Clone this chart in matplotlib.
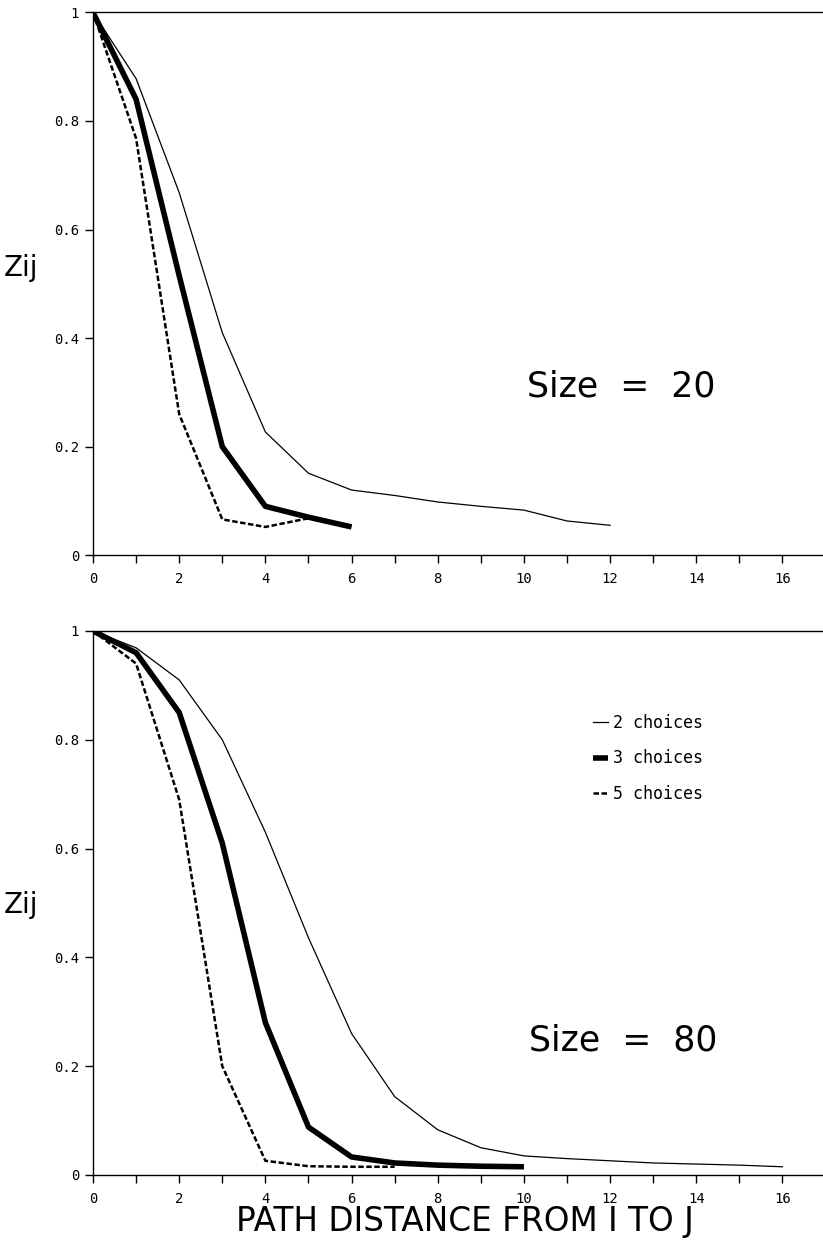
import matplotlib
matplotlib.use("Agg")
import matplotlib.pyplot as plt
from matplotlib.ticker import MultipleLocator, FuncFormatter

# Size = 20
x20_2 = [0, 1, 2, 3, 4, 5, 6, 7, 8, 9, 10, 11, 12]
y20_2 = [1.0, 0.878, 0.668, 0.41, 0.227, 0.151, 0.12, 0.11, 0.098, 0.09, 0.083, 0.063, 0.055]
x20_3 = [0, 1, 2, 3, 4, 5, 6]
y20_3 = [1.0, 0.84, 0.515, 0.20, 0.09, 0.07, 0.052]
x20_5 = [0, 1, 2, 3, 4, 5, 6]
y20_5 = [1.0, 0.768, 0.26, 0.066, 0.052, 0.068, 0.055]

# Size = 80
x80_2 = [0, 1, 2, 3, 4, 5, 6, 7, 8, 9, 10, 11, 12, 13, 14, 15, 16]
y80_2 = [1.0, 0.969, 0.91, 0.80, 0.63, 0.436, 0.26, 0.144, 0.083, 0.05, 0.035, 0.03,
         0.026, 0.022, 0.02, 0.018, 0.015]
x80_3 = [0, 1, 2, 3, 4, 5, 6, 7, 8, 9, 10]
y80_3 = [1.0, 0.96, 0.85, 0.61, 0.28, 0.088, 0.033, 0.022, 0.018, 0.016, 0.015]
x80_5 = [0, 1, 2, 3, 4, 5, 6, 7]
y80_5 = [1.0, 0.94, 0.69, 0.20, 0.026, 0.016, 0.015, 0.015]

labels = ["2 choices", "3 choices", "5 choices"]
x_ticks = [0, 2, 4, 6, 8, 10, 12, 14, 16]
y_ticks = [0, 0.2, 0.4, 0.6, 0.8, 1]

mono = "DejaVu Sans Mono"
fig = plt.figure(figsize=(8.23, 12.42), dpi=100)
ax1 = fig.add_axes([0.113, 0.553, 0.887, 0.437])
ax2 = fig.add_axes([0.113, 0.054, 0.887, 0.438])

def yfmt(v, pos):
    if abs(v) < 1e-9:
        return "0"
    if abs(v - 1) < 1e-9:
        return "1"
    return f"{v:.1f}"

for ax in (ax1, ax2):
    ax.set_xlim(0, 16.94)
    ax.set_ylim(0, 1)
    ax.spines["right"].set_visible(False)
    for s in ("top", "left", "bottom"):
        ax.spines[s].set_linewidth(1.0)
    ax.set_xticks(x_ticks)
    ax.xaxis.set_minor_locator(MultipleLocator(1))
    ax.set_yticks(y_ticks)
    ax.yaxis.set_major_formatter(FuncFormatter(yfmt))
    ax.tick_params(axis="x", which="both", direction="out", length=6, width=1, pad=6)
    ax.tick_params(axis="y", which="both", direction="out", length=6, width=1, pad=4)
    for lab in ax.get_xticklabels() + ax.get_yticklabels():
        lab.set_fontfamily(mono)
        lab.set_fontsize(10)

l1, = ax1.plot(x20_2, y20_2, color="black", lw=0.9)
l2, = ax1.plot(x20_3, y20_3, color="black", lw=4.0, solid_capstyle="butt")
l3, = ax1.plot(x20_5, y20_5, color="black", lw=1.8, linestyle=(0, (2.2, 1.0)))

m1, = ax2.plot(x80_2, y80_2, color="black", lw=0.9, label=labels[0])
m2, = ax2.plot(x80_3, y80_3, color="black", lw=4.0, solid_capstyle="butt", label=labels[1])
m3, = ax2.plot(x80_5, y80_5, color="black", lw=1.8, linestyle=(0, (2.2, 1.0)), label=labels[2])

ax1.text(12.25, 0.31, "Size  =  20", fontsize=25, ha="center", va="center")
ax2.text(12.3, 0.247, "Size  =  80", fontsize=25, ha="center", va="center")

leg = ax2.legend(loc="upper left", bbox_to_anchor=(0.665, 0.875), frameon=False,
                 handlelength=0.9, handletextpad=0.3, labelspacing=1.05,
                 prop={"family": mono, "size": 12})

fig.text(0.005, 1 - 268 / 1242, "Zij", fontsize=20, ha="left", va="center")
fig.text(0.005, 1 - 905 / 1242, "Zij", fontsize=20, ha="left", va="center")
fig.text(465 / 823, 1 - 1222 / 1242, "PATH DISTANCE FROM I TO J", fontsize=23.5,
         ha="center", va="center")

fig.savefig("out.png", dpi=100)
